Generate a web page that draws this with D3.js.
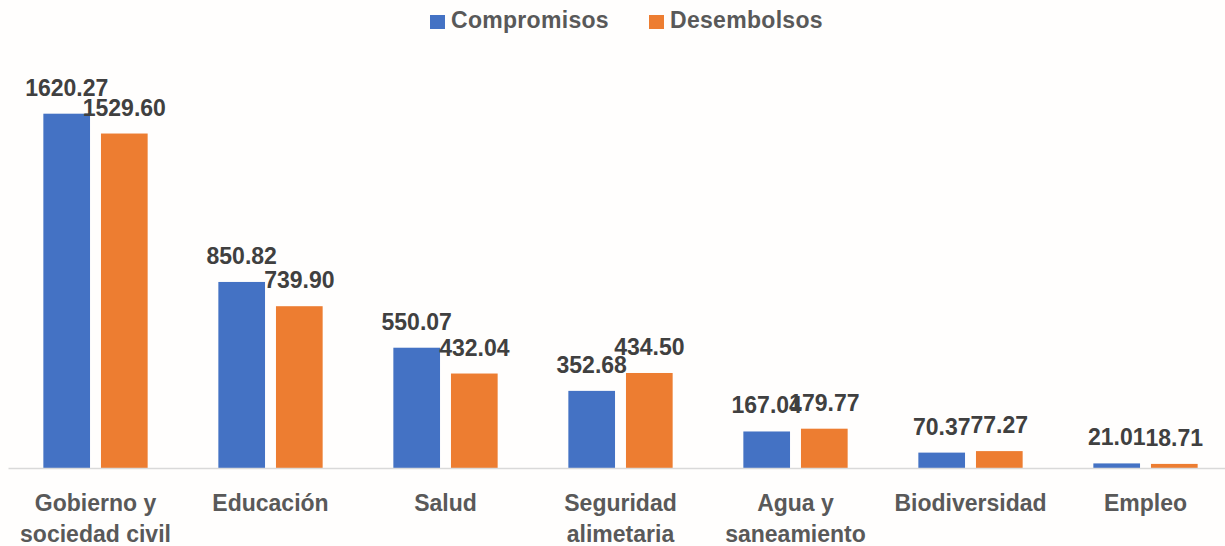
<!DOCTYPE html>
<html>
<head>
<meta charset="utf-8">
<script src="https://cdn.jsdelivr.net/npm/d3@7"></script>
<style>
  body { margin: 0; background: #fffefd; }
  text { font-family: "Liberation Sans", Arial, sans-serif; font-weight: bold; }
</style>
</head>
<body>
<script>
const w = 1225
const h = 546

// chart data
const categories = [
    ["Gobierno y", "sociedad civil"],
    ["Educación"],
    ["Salud"],
    ["Seguridad", "alimetaria"],
    ["Agua y", "saneamiento"],
    ["Biodiversidad"],
    ["Empleo"]
];
const seriesNames = ["Compromisos", "Desembolsos"];
const compromisos = [1620.27, 850.82, 550.07, 352.68, 167.04, 70.37, 21.01];
const desembolsos = [1529.60, 739.90, 432.04, 434.50, 179.77, 77.27, 18.71];
const colors = ["#4472c4", "#ed7d31"];

const rows = categories.map(function(c, i) {
    return { key: c.join(" "), lines: c, values: [compromisos[i], desembolsos[i]] };
});

let svg = d3.select("body")
    .append("svg")
    .attr("width", w)
    .attr("height", h);

const x0 = d3.scaleBand()
    .domain(rows.map(d => d.key))
    .range([8, 1233])
    .paddingInner(0.404)
    .paddingOuter(0.202);

const x1 = d3.scaleBand()
    .domain(seriesNames)
    .range([0, x0.bandwidth()])
    .paddingInner(0.19);

const y = d3.scaleLinear()
    .domain([0, 1800])
    .range([468, 74.4]);

// bars
const groups = svg.selectAll(".group")
    .data(rows)
    .enter()
    .append("g")
    .attr("class", "group")
    .attr("transform", d => "translate(" + x0(d.key) + ",0)");

groups.selectAll("rect")
    .data(d => d.values.map((v, i) => ({ name: seriesNames[i], value: v, i: i })))
    .enter()
    .append("rect")
    .attr("x", d => x1(d.name))
    .attr("y", d => y(d.value))
    .attr("width", x1.bandwidth())
    .attr("height", d => y(0) - y(d.value))
    .style("fill", d => colors[d.i]);

// value labels
groups.selectAll(".val")
    .data(d => d.values.map((v, i) => ({ name: seriesNames[i], value: v })))
    .enter()
    .append("text")
    .attr("class", "val")
    .attr("text-anchor", "middle")
    .attr("x", d => x1(d.name) + x1.bandwidth() / 2)
    .attr("y", d => y(d.value) - 18)
    .style("font-size", "23px")
    .style("fill", "#404040")
    .text(d => d3.format(".2f")(d.value));

// axis line
const axis = svg.append("g")
    .attr("transform", "translate(0," + y(0) + ")")
    .call(d3.axisBottom(x0).tickSize(0).tickFormat(""));
axis.select(".domain")
    .attr("stroke", "#d9d9d9")
    .attr("stroke-width", 1.5);

// category labels
const catLabels = svg.selectAll(".cat")
    .data(rows)
    .enter()
    .append("text")
    .attr("class", "cat")
    .attr("text-anchor", "middle")
    .attr("y", 511)
    .style("font-size", "23px")
    .style("fill", "#595959");

catLabels.selectAll("tspan")
    .data(d => d.lines.map(l => ({ l: l, cx: x0(d.key) + x0.bandwidth() / 2 })))
    .enter()
    .append("tspan")
    .attr("x", d => d.cx)
    .attr("dy", (d, i) => i === 0 ? 0 : 31)
    .text(d => d.l);

// legend
const legendX = [430, 649];
const legend = svg.selectAll(".legend")
    .data(seriesNames)
    .enter()
    .append("g")
    .attr("class", "legend")
    .attr("transform", (d, i) => "translate(" + legendX[i] + ",0)");

legend.append("rect")
    .attr("x", 0)
    .attr("y", 15)
    .attr("width", 15)
    .attr("height", 14)
    .style("fill", (d, i) => colors[i]);

legend.append("text")
    .attr("x", 21)
    .attr("y", 28)
    .style("font-size", "23px")
    .style("letter-spacing", "0.3px")
    .style("fill", "#595959")
    .text(d => d);
</script>
</body>
</html>
